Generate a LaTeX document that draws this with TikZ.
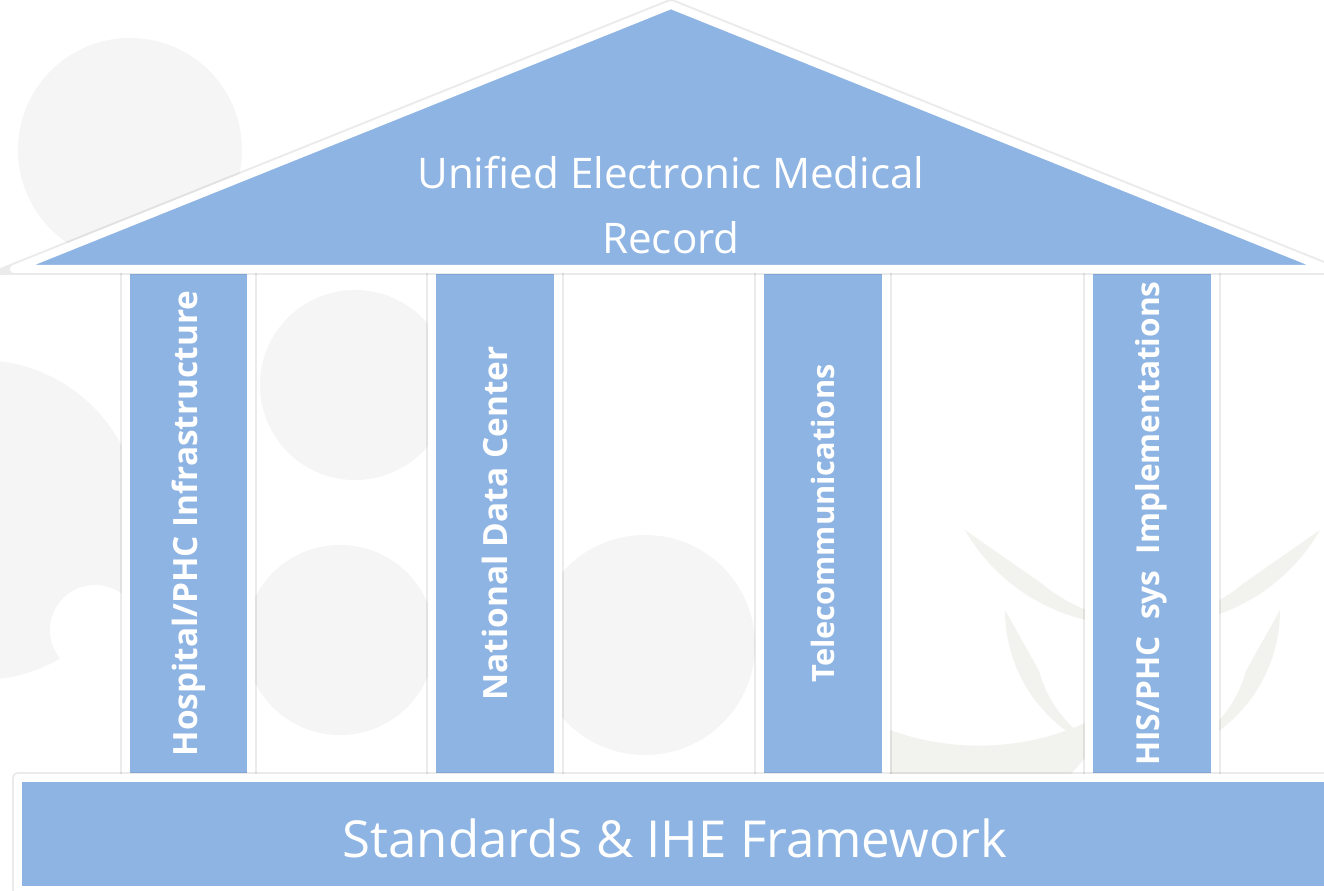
\documentclass[tikz,border=0pt]{standalone}
\usepackage{fontspec}
\setmainfont{Open Sans}
\usetikzlibrary{shadows}
\definecolor{templeblue}{HTML}{8EB4E3}
\definecolor{watermark}{HTML}{F5F5F5}
\definecolor{palmgray}{HTML}{F2F2EE}

\tikzstyle{temple part}=[fill=templeblue,draw=white,line width=0.16cm,line join=round,
    preaction={draw=black,opacity=0.08,line width=0.24cm},
    drop shadow={opacity=0.15,shadow xshift=0.8pt,shadow yshift=-2.2pt}]
\tikzstyle{pillar box}=[temple part,inner sep=0pt,
    minimum width=2.52cm,minimum height=10.14cm]
\tikzstyle{pillar text}=[rotate=90,text=white,inner sep=0pt,
    font=\fontsize{19}{22}\selectfont\bfseries]
\tikzstyle{roof text}=[text=white,align=center,inner sep=0pt,
    font=\fontsize{24}{37}\selectfont]
\tikzstyle{base text}=[text=white,inner sep=0pt,
    font=\fontsize{29}{34}\selectfont]
\newcommand{\pillar}[4][]{
    \node[pillar box] at (#2,523.5) (#3) {};
    \node[pillar text,#1] at (#3) {#4};
}

\begin{document}
\begin{tikzpicture}[x=0.02cm,y=-0.02cm]
    \useasboundingbox[fill=white] (0,0) rectangle (1324,891);
    % faint watermark behind the temple
    \fill[watermark] (130,150) circle (112);
    \fill[watermark] (-20,520) circle (160);
    \fill[watermark] (355,385) circle (95);
    \fill[watermark] (340,640) circle (95);
    \fill[watermark] (645,645) circle (110);
    \fill[white] (95,630) circle (45);
    \fill[palmgray] (965,530) arc(150:60:190) arc(60:130:160) -- cycle;
    \fill[palmgray] (1320,530) arc(30:120:190) arc(120:50:160) -- cycle;
    \fill[palmgray] (1005,610) arc(180:90:150) arc(90:165:120) -- cycle;
    \fill[palmgray] (1280,610) arc(0:90:150) arc(90:15:120) -- cycle;
    \fill[palmgray] (890,730) arc(110:40:260) -- (1070,775) arc(40:100:200) -- cycle;
    \fill[palmgray] (1000,775) arc(160:90:210) arc(90:150:170) -- cycle;
    %
    \pillar{188.5}{HOSP}{Hospital/PHC Infrastructure}
    \pillar{495}{NDC}{National Data Center}
    \pillar[font=\fontsize{17.5}{22}\selectfont\bfseries]{822.5}{TEL}{Telecommunications}
    \pillar[font=\fontsize{18}{22}\selectfont\bfseries]{1151.5}{HIS}{HIS/PHC\ \ sys\ \ Implementations}
    %
    \draw[temple part] (14,269) -- (671,5) -- (1328,269) -- cycle;
    \node[roof text] at (671,205) (roof) {Unified Electronic Medical\\Record};
    %
    \node[temple part,inner sep=0pt,minimum width=26.34cm,minimum height=2.24cm]
        at (676.5,834) (base) {};
    \node[base text,anchor=base] at (675,857) (basetext) {Standards \& IHE Framework};
\end{tikzpicture}
\end{document}
